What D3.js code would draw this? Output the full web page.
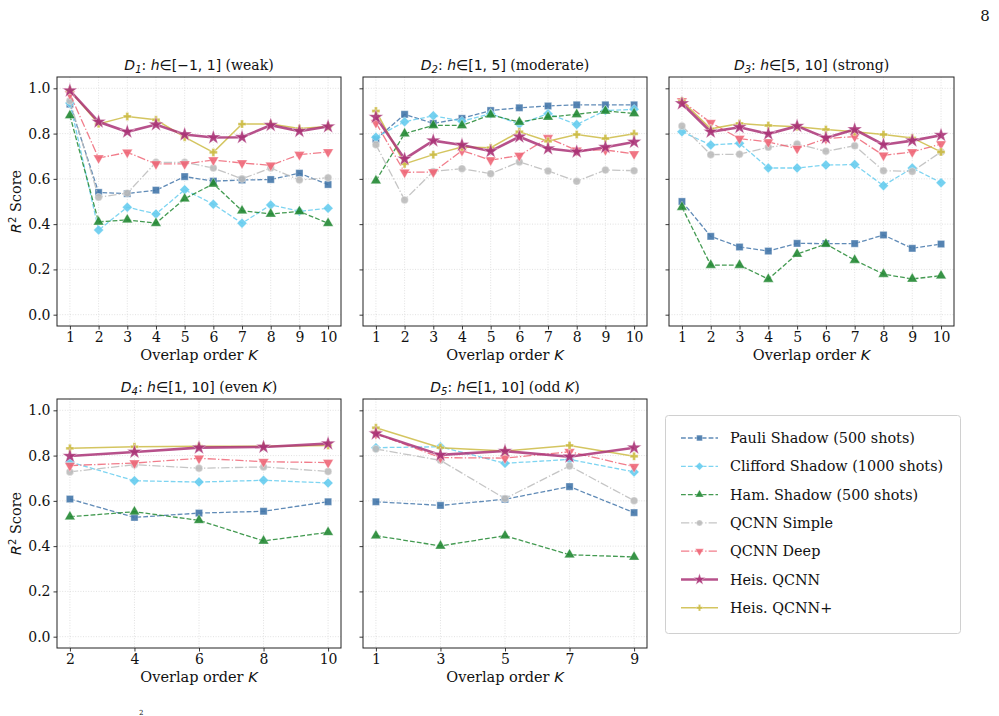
<!DOCTYPE html>
<html>
<head>
<meta charset="utf-8">
<script src="https://cdn.jsdelivr.net/npm/d3@7"></script>
<style>
  body { margin: 0; background: #fff; }
  svg { display: block; }
  text { font-family: "DejaVu Serif", serif; fill: #111; }
  .math { font-family: "DejaVu Sans", sans-serif; font-style: italic; }
</style>
</head>
<body>
<svg id="chart" width="999" height="716"></svg>
<script>
// ---------- data ----------
const kAll  = [1, 2, 3, 4, 5, 6, 7, 8, 9, 10];
const kEven = [2, 4, 6, 8, 10];
const kOdd  = [1, 3, 5, 7, 9];
const yTicks = [0.0, 0.2, 0.4, 0.6, 0.8, 1.0];

const panelTitles = [
  ["D", "1", ": ", "h", "∈[−1, 1]", " (weak)"],
  ["D", "2", ": ", "h", "∈[1, 5]", " (moderate)"],
  ["D", "3", ": ", "h", "∈[5, 10]", " (strong)"],
  ["D", "4", ": ", "h", "∈[1, 10]", " (even K)"],
  ["D", "5", ": ", "h", "∈[1, 10]", " (odd K)"]
];

const methodNames = [
  "Pauli Shadow (500 shots)",
  "Clifford Shadow (1000 shots)",
  "Ham. Shadow (500 shots)",
  "QCNN Simple",
  "QCNN Deep",
  "Heis. QCNN",
  "Heis. QCNN+"
];

// values per method, one array per panel D1..D5
const pauli = [
  [0.93, 0.54, 0.535, 0.55, 0.61, 0.59, 0.595, 0.597, 0.625, 0.575],
  [0.775, 0.885, 0.845, 0.867, 0.902, 0.914, 0.922, 0.927, 0.927, 0.927],
  [0.50, 0.346, 0.299, 0.281, 0.315, 0.314, 0.314, 0.352, 0.293, 0.312],
  [0.608, 0.527, 0.546, 0.554, 0.596],
  [0.596, 0.580, 0.607, 0.663, 0.548]
];
const clifford = [
  [0.935, 0.374, 0.475, 0.445, 0.552, 0.488, 0.404, 0.485, 0.457, 0.470],
  [0.784, 0.852, 0.879, 0.855, 0.888, 0.842, 0.888, 0.840, 0.902, 0.907],
  [0.808, 0.750, 0.757, 0.648, 0.648, 0.661, 0.663, 0.570, 0.648, 0.583],
  [0.772, 0.689, 0.683, 0.691, 0.679],
  [0.835, 0.839, 0.766, 0.783, 0.728]
];
const hamShadow = [
  [0.88, 0.41, 0.419, 0.404, 0.512, 0.578, 0.459, 0.445, 0.456, 0.404],
  [0.592, 0.800, 0.836, 0.836, 0.883, 0.851, 0.873, 0.885, 0.900, 0.889],
  [0.475, 0.219, 0.219, 0.157, 0.268, 0.312, 0.241, 0.179, 0.158, 0.172],
  [0.530, 0.552, 0.514, 0.423, 0.461],
  [0.446, 0.401, 0.446, 0.362, 0.352]
];
const qcnnSimple = [
  [0.945, 0.519, 0.537, 0.673, 0.673, 0.648, 0.600, 0.648, 0.595, 0.605],
  [0.751, 0.507, 0.633, 0.645, 0.623, 0.675, 0.635, 0.589, 0.639, 0.636],
  [0.834, 0.707, 0.709, 0.740, 0.754, 0.722, 0.746, 0.636, 0.633, 0.719],
  [0.728, 0.760, 0.744, 0.750, 0.730],
  [0.829, 0.779, 0.610, 0.754, 0.601]
];
const qcnnDeep = [
  [0.975, 0.692, 0.717, 0.666, 0.666, 0.683, 0.670, 0.660, 0.707, 0.719],
  [0.848, 0.629, 0.630, 0.725, 0.683, 0.703, 0.781, 0.726, 0.728, 0.710],
  [0.944, 0.848, 0.778, 0.763, 0.734, 0.778, 0.787, 0.704, 0.719, 0.754],
  [0.756, 0.767, 0.788, 0.773, 0.769],
  [0.897, 0.791, 0.789, 0.817, 0.751]
];
const heisQcnn = [
  [0.99, 0.852, 0.808, 0.840, 0.796, 0.783, 0.784, 0.837, 0.811, 0.831],
  [0.873, 0.688, 0.769, 0.750, 0.722, 0.786, 0.734, 0.720, 0.740, 0.763],
  [0.933, 0.808, 0.828, 0.799, 0.833, 0.781, 0.818, 0.751, 0.769, 0.793],
  [0.798, 0.816, 0.835, 0.838, 0.853],
  [0.897, 0.803, 0.820, 0.795, 0.835]
];
const heisQcnnPlus = [
  [0.99, 0.843, 0.876, 0.861, 0.784, 0.717, 0.842, 0.842, 0.822, 0.831],
  [0.900, 0.666, 0.707, 0.741, 0.738, 0.808, 0.766, 0.796, 0.778, 0.799],
  [0.944, 0.821, 0.845, 0.836, 0.830, 0.818, 0.808, 0.796, 0.781, 0.719],
  [0.832, 0.839, 0.841, 0.841, 0.845],
  [0.923, 0.835, 0.820, 0.845, 0.797]
];

// ---------- styling ----------
const methodData = [pauli, clifford, hamShadow, qcnnSimple, qcnnDeep, heisQcnn, heisQcnnPlus];
const colors = ["#4477AA", "#66CCEE", "#228833", "#BBBBBB", "#EE6677", "#AA3377", "#CCBB44"];
const dashes = ["4.8,2.1", "4.8,2.1", "4.8,2.1", "8.3,2.1,1.3,2.1", "8.3,2.1,1.3,2.1", null, null];
const widths = [1.3, 1.3, 1.3, 1.3, 1.3, 2.6, 1.5];
const drawOrder = [0, 1, 2, 3, 4, 6, 5];

function markerPath(i, s) {
  s = s || 1;
  switch (i) {
    case 0: return d3.symbol(d3.symbolSquare, 52 * s * s)();
    case 1: { const r = 5.0 * s; return `M0,${-r}L${r},0L0,${r}L${-r},0Z`; }
    case 2: return d3.symbol(d3.symbolTriangle, 48 * s * s)();
    case 3: return d3.symbol(d3.symbolCircle, 44 * s * s)();
    case 4: return d3.symbol(d3.symbolTriangle, 48 * s * s)();
    case 5: return d3.symbol(d3.symbolStar, 68 * s * s)();
    case 6: { const a = 4.0 * s, b = 1.45 * s; return `M${-b},${-a}H${b}V${-b}H${a}V${b}H${b}V${a}H${-b}V${b}H${-a}V${-b}H${-b}Z`; }
  }
}
function markerRot(i) { return i === 4 ? " rotate(180)" : ""; }

const panels = [
  { left: 57, right: 341, top: 77, bottom: 326, ks: kAll, xdom: [0.55, 10.45], ylab: true },
  { left: 363, right: 647, top: 77, bottom: 326, ks: kAll, xdom: [0.55, 10.45], ylab: false },
  { left: 669, right: 954, top: 77, bottom: 326, ks: kAll, xdom: [0.55, 10.45], ylab: false },
  { left: 57, right: 341, top: 399, bottom: 648, ks: kEven, xdom: [1.6, 10.4], ylab: true },
  { left: 363, right: 647, top: 399, bottom: 648, ks: kOdd, xdom: [0.6, 9.4], ylab: false }
];

const svg = d3.select("#chart");

// page number
svg.append("text").attr("x", 985).attr("y", 21).attr("font-size", 15).attr("text-anchor", "middle").text("8");
// stray superscript fragment at bottom
svg.append("text").attr("x", 139).attr("y", 715).attr("font-size", 7).text("2");

panels.forEach((p, pi) => {
  const x = d3.scaleLinear().domain(p.xdom).range([p.left, p.right]);
  const y = d3.scaleLinear().domain([-0.05, 1.05]).range([p.bottom, p.top]);
  const g = svg.append("g");

  // grid
  g.selectAll(".gy").data(yTicks).enter().append("line")
    .attr("x1", p.left).attr("x2", p.right)
    .attr("y1", d => y(d)).attr("y2", d => y(d))
    .attr("stroke", "#d9d9d9").attr("stroke-width", 0.8).attr("stroke-dasharray", "1,1.6");
  g.selectAll(".gx").data(p.ks).enter().append("line")
    .attr("y1", p.top).attr("y2", p.bottom)
    .attr("x1", d => x(d)).attr("x2", d => x(d))
    .attr("stroke", "#d9d9d9").attr("stroke-width", 0.8).attr("stroke-dasharray", "1,1.6");

  // axes
  const xAxis = d3.axisBottom(x).tickValues(p.ks).tickFormat(d3.format("d")).tickSize(3.5).tickPadding(3);
  const gx = g.append("g").attr("transform", `translate(0,${p.bottom})`).call(xAxis);
  const yAxis = d3.axisLeft(y).tickValues(yTicks).tickSize(3.5).tickPadding(3)
    .tickFormat(p.ylab ? d3.format(".1f") : () => "");
  const gy = g.append("g").attr("transform", `translate(${p.left},0)`).call(yAxis);
  [gx, gy].forEach(ax => {
    ax.select(".domain").remove();
    ax.selectAll(".tick line").attr("stroke", "#222").attr("stroke-width", 0.9);
    ax.selectAll(".tick text").attr("font-size", 14).attr("font-family", "DejaVu Serif, serif").attr("fill", "#111");
  });

  // series
  drawOrder.forEach(mi => {
    const vals = methodData[mi][pi];
    const pts = p.ks.map((k, j) => [k, vals[j]]);
    const line = d3.line().x(d => x(d[0])).y(d => y(d[1]));
    g.append("path").attr("d", line(pts))
      .attr("fill", "none").attr("stroke", colors[mi])
      .attr("stroke-width", widths[mi]).attr("stroke-opacity", 0.85)
      .attr("stroke-dasharray", dashes[mi]);
    g.selectAll(null).data(pts).enter().append("path")
      .attr("d", markerPath(mi))
      .attr("transform", d => `translate(${x(d[0])},${y(d[1])})${markerRot(mi)}`)
      .attr("fill", colors[mi]).attr("fill-opacity", 0.9)
      .attr("stroke", "#fff").attr("stroke-width", 0.5).attr("stroke-opacity", 0.7);
  });

  // frame
  g.append("rect").attr("x", p.left).attr("y", p.top)
    .attr("width", p.right - p.left).attr("height", p.bottom - p.top)
    .attr("fill", "none").attr("stroke", "#222").attr("stroke-width", 1);

  // title
  const t = panelTitles[pi];
  const title = svg.append("text").attr("x", (p.left + p.right) / 2).attr("y", p.top - 7)
    .attr("text-anchor", "middle").attr("font-size", 14);
  title.append("tspan").attr("class", "math").text(t[0]);
  title.append("tspan").attr("class", "math").attr("font-style", "normal").attr("font-size", 10).attr("dy", 3).text(t[1]);
  title.append("tspan").attr("font-family", "DejaVu Sans, sans-serif").attr("dy", -3).text(t[2]);
  title.append("tspan").attr("class", "math").text(t[3]);
  title.append("tspan").attr("font-family", "DejaVu Sans, sans-serif").text(t[4]);
  if (pi >= 3) {
    const parts = t[5].split("K");
    title.append("tspan").text(parts[0]);
    title.append("tspan").attr("class", "math").text("K");
    title.append("tspan").text(parts[1]);
  } else {
    title.append("tspan").text(t[5]);
  }

  // x label
  const xl = svg.append("text").attr("x", (p.left + p.right) / 2).attr("y", p.bottom + 34)
    .attr("text-anchor", "middle").attr("font-size", 14.5);
  xl.append("tspan").text("Overlap order ");
  xl.append("tspan").attr("class", "math").text("K");

  // y label
  if (p.ylab) {
    const cy = (p.top + p.bottom) / 2;
    const yl = svg.append("text").attr("transform", `translate(21,${cy}) rotate(-90)`)
      .attr("text-anchor", "middle").attr("font-size", 14.5);
    yl.append("tspan").attr("class", "math").text("R");
    yl.append("tspan").attr("font-family", "DejaVu Sans, sans-serif").attr("font-size", 10).attr("dy", -5).text("2");
    yl.append("tspan").attr("dy", 5).text(" Score");
  }
});

// ---------- legend ----------
const lg = svg.append("g");
lg.append("rect").attr("x", 665.5).attr("y", 415.5).attr("width", 295).attr("height", 218)
  .attr("rx", 3).attr("fill", "#fff").attr("stroke", "#d0d0d0").attr("stroke-width", 1);
methodNames.forEach((name, i) => {
  const yy = 438 + i * 28.3;
  lg.append("line").attr("x1", 681).attr("x2", 718).attr("y1", yy).attr("y2", yy)
    .attr("stroke", colors[i]).attr("stroke-width", widths[i]).attr("stroke-opacity", 0.85)
    .attr("stroke-dasharray", dashes[i]);
  lg.append("path").attr("d", markerPath(i, 0.8))
    .attr("transform", `translate(699.5,${yy})${markerRot(i)}`)
    .attr("fill", colors[i]).attr("fill-opacity", 0.9)
    .attr("stroke", "#fff").attr("stroke-width", 0.5).attr("stroke-opacity", 0.7);
  lg.append("text").attr("x", 730).attr("y", yy + 5).attr("font-size", 14.4).text(name);
});
</script>
</body>
</html>
